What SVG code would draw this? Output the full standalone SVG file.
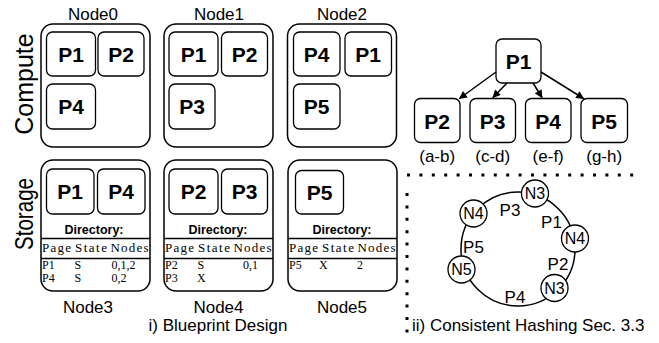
<svg xmlns="http://www.w3.org/2000/svg" width="659" height="343" viewBox="0 0 659 343">
<defs>
<style>
.box{fill:#fff;stroke:#000;stroke-width:1.5}
.pb{fill:#fff;stroke:#000;stroke-width:1.3}
.pt{font-family:"Liberation Sans",Arial,sans-serif;font-weight:bold;font-size:21px;text-anchor:middle}
.lbl{font-family:"Liberation Sans",Arial,sans-serif;font-size:17px;text-anchor:middle}
.side{font-family:"Liberation Sans",Arial,sans-serif;font-size:25px;text-anchor:middle}
.dir{font-family:"Liberation Sans",Arial,sans-serif;font-weight:bold;font-size:12.5px;text-anchor:middle}
.tb{font-family:"Liberation Serif","Times New Roman",serif;font-size:13px}
.tr{font-family:"Liberation Serif","Times New Roman",serif;font-size:12px}
.rl{stroke:#000;stroke-width:1.3}
.arr{stroke:#000;stroke-width:1.5;fill:none;marker-end:url(#ah)}
.dots{stroke:#000;stroke-width:3;stroke-dasharray:3 9.4;fill:none}
.nc{fill:#fff;stroke:#000;stroke-width:1.3}
.nt{font-family:"Liberation Sans",Arial,sans-serif;font-size:16px;text-anchor:middle}
.rt{font-family:"Liberation Sans",Arial,sans-serif;font-size:17px;text-anchor:middle}
</style>
<marker id="ah" viewBox="0 0 10 10" refX="9" refY="5" markerWidth="9" markerHeight="8" orient="auto" markerUnits="userSpaceOnUse">
<path d="M0,0 L10,5 L0,10 z" fill="#000"/>
</marker>
</defs>

<text class="side" transform="translate(33,84) rotate(-90)">Compute</text>
<text class="side" transform="translate(33,214) rotate(-90)" textLength="72" lengthAdjust="spacingAndGlyphs">Storage</text>

<g id="node0">
<text class="lbl" x="93" y="20">Node0</text>
<rect class="box" x="41" y="24" width="109" height="123" rx="12"/>
<rect class="pb" x="46.5" y="32" width="49" height="44" rx="6"/><text class="pt" x="71" y="62">P1</text>
<rect class="pb" x="98" y="32" width="46" height="44" rx="6"/><text class="pt" x="121" y="62">P2</text>
<rect class="pb" x="46.5" y="84" width="49" height="45" rx="6"/><text class="pt" x="71" y="114">P4</text>
</g>
<g id="node1">
<text class="lbl" x="219" y="20">Node1</text>
<rect class="box" x="164" y="24" width="109" height="123" rx="12"/>
<rect class="pb" x="169" y="32" width="49" height="44" rx="6"/><text class="pt" x="193.5" y="62">P1</text>
<rect class="pb" x="221.5" y="32" width="46" height="44" rx="6"/><text class="pt" x="244.5" y="62">P2</text>
<rect class="pb" x="169" y="84" width="46" height="45" rx="6"/><text class="pt" x="192" y="114">P3</text>
</g>
<g id="node2">
<text class="lbl" x="342" y="20">Node2</text>
<rect class="box" x="287.5" y="24" width="109" height="123" rx="12"/>
<rect class="pb" x="293.5" y="32" width="46.5" height="44" rx="6"/><text class="pt" x="316.7" y="62">P4</text>
<rect class="pb" x="345" y="32" width="46.5" height="44" rx="6"/><text class="pt" x="368.2" y="62">P1</text>
<rect class="pb" x="293.5" y="84" width="46.5" height="45" rx="6"/><text class="pt" x="316.7" y="114">P5</text>
</g>

<g id="node3">
<rect class="box" x="41" y="160" width="109" height="131" rx="12"/>
<rect class="pb" x="46.5" y="169" width="47.5" height="45" rx="6"/><text class="pt" x="70.2" y="199">P1</text>
<rect class="pb" x="97.5" y="169" width="47.5" height="45" rx="6"/><text class="pt" x="121.2" y="199">P4</text>
<text class="dir" x="94" y="234">Directory:</text>
<line class="rl" x1="41" y1="238.5" x2="150" y2="238.5"/>
<text class="tb" x="42" y="252" textLength="29">Page</text><text class="tb" x="75" y="252" textLength="32">State</text><text class="tb" x="110.5" y="252" textLength="38">Nodes</text>
<line class="rl" x1="41" y1="258.5" x2="150" y2="258.5"/>
<text class="tr" x="42" y="268.5">P1</text><text class="tr" x="74.5" y="268.5">S</text><text class="tr" x="111.5" y="268.5">0,1,2</text>
<text class="tr" x="42" y="282">P4</text><text class="tr" x="74.5" y="282">S</text><text class="tr" x="111.5" y="282">0,2</text>
<text class="lbl" x="88" y="313">Node3</text>
</g>
<g id="node4">
<rect class="box" x="164" y="160" width="109" height="131" rx="12"/>
<rect class="pb" x="169" y="169" width="49" height="45" rx="6"/><text class="pt" x="193.5" y="199">P2</text>
<rect class="pb" x="221.5" y="169" width="46" height="45" rx="6"/><text class="pt" x="244.5" y="199">P3</text>
<text class="dir" x="218" y="234">Directory:</text>
<line class="rl" x1="164" y1="238.5" x2="273" y2="238.5"/>
<text class="tb" x="165" y="252" textLength="29">Page</text><text class="tb" x="198" y="252" textLength="32">State</text><text class="tb" x="233.5" y="252" textLength="38">Nodes</text>
<line class="rl" x1="164" y1="258.5" x2="273" y2="258.5"/>
<text class="tr" x="165" y="268.5">P2</text><text class="tr" x="197.5" y="268.5">S</text><text class="tr" x="243" y="268.5">0,1</text>
<text class="tr" x="165" y="282">P3</text><text class="tr" x="197" y="282">X</text>
<text class="lbl" x="218.5" y="313">Node4</text>
</g>
<g id="node5">
<rect class="box" x="288" y="160" width="109" height="131" rx="12"/>
<rect class="pb" x="295.5" y="170.5" width="48" height="43.5" rx="6"/><text class="pt" x="319.5" y="200">P5</text>
<text class="dir" x="342" y="234">Directory:</text>
<line class="rl" x1="288" y1="238.5" x2="397" y2="238.5"/>
<text class="tb" x="289" y="252" textLength="29">Page</text><text class="tb" x="322" y="252" textLength="32">State</text><text class="tb" x="357.5" y="252" textLength="38">Nodes</text>
<line class="rl" x1="288" y1="258.5" x2="397" y2="258.5"/>
<text class="tr" x="289" y="268.5">P5</text><text class="tr" x="319" y="268.5">X</text><text class="tr" x="357" y="268.5">2</text>
<text class="lbl" x="342" y="313">Node5</text>
</g>

<text class="lbl" x="218" y="331">i) Blueprint Design</text>

<g id="tree">
<g id="tP1"><rect class="pb" x="496" y="39" width="45" height="44" rx="6"/><text class="pt" x="518.5" y="69">P1</text></g>
<g id="tP2"><rect class="pb" x="414.5" y="98.5" width="45.5" height="44" rx="6"/><text class="pt" x="437.2" y="128.5">P2</text><text class="lbl" x="437.2" y="162">(a-b)</text></g>
<g id="tP3"><rect class="pb" x="470" y="98.5" width="45.5" height="44" rx="6"/><text class="pt" x="492.7" y="128.5">P3</text><text class="lbl" x="492.7" y="162">(c-d)</text></g>
<g id="tP4"><rect class="pb" x="525.5" y="98.5" width="45.5" height="44" rx="6"/><text class="pt" x="548.2" y="128.5">P4</text><text class="lbl" x="548.2" y="162">(e-f)</text></g>
<g id="tP5"><rect class="pb" x="581" y="98.5" width="46.5" height="44" rx="6"/><text class="pt" x="604.2" y="128.5">P5</text><text class="lbl" x="604.2" y="162">(g-h)</text></g>
</g>
<g id="connectors">
<line class="arr" x1="496" y1="72" x2="459.5" y2="98.5"/>
<line class="arr" x1="507" y1="83" x2="493" y2="97.5"/>
<line class="arr" x1="533" y1="83" x2="542" y2="97.5"/>
<line class="arr" x1="541" y1="72" x2="583.5" y2="98.5"/>
</g>

<line class="dots" x1="407" y1="175" x2="640" y2="175"/>
<line class="dots" x1="407" y1="193" x2="407" y2="335"/>

<g id="ring">
<circle cx="518" cy="249" r="57" fill="none" stroke="#000" stroke-width="1.5"/>
<g id="rN3a"><circle class="nc" cx="535" cy="193.5" r="13.5"/><text class="nt" x="535" y="199.3">N3</text></g>
<g id="rN4a"><circle class="nc" cx="575" cy="238.5" r="13.5"/><text class="nt" x="575" y="244.3">N4</text></g>
<g id="rN3b"><circle class="nc" cx="554.5" cy="288" r="13.5"/><text class="nt" x="554.5" y="293.8">N3</text></g>
<g id="rN5"><circle class="nc" cx="461.5" cy="269.5" r="13.5"/><text class="nt" x="461.5" y="275.3">N5</text></g>
<g id="rN4b"><circle class="nc" cx="473.5" cy="213.5" r="13.5"/><text class="nt" x="473.5" y="219.3">N4</text></g>
<text class="rt" x="510" y="216">P3</text>
<text class="rt" x="551.5" y="228">P1</text>
<text class="rt" x="473.5" y="253">P5</text>
<text class="rt" x="558" y="269.5">P2</text>
<text class="rt" x="515" y="303">P4</text>
</g>

<text class="rt" x="412" y="331" style="text-anchor:start">ii) Consistent Hashing Sec. 3.3</text>
</svg>
